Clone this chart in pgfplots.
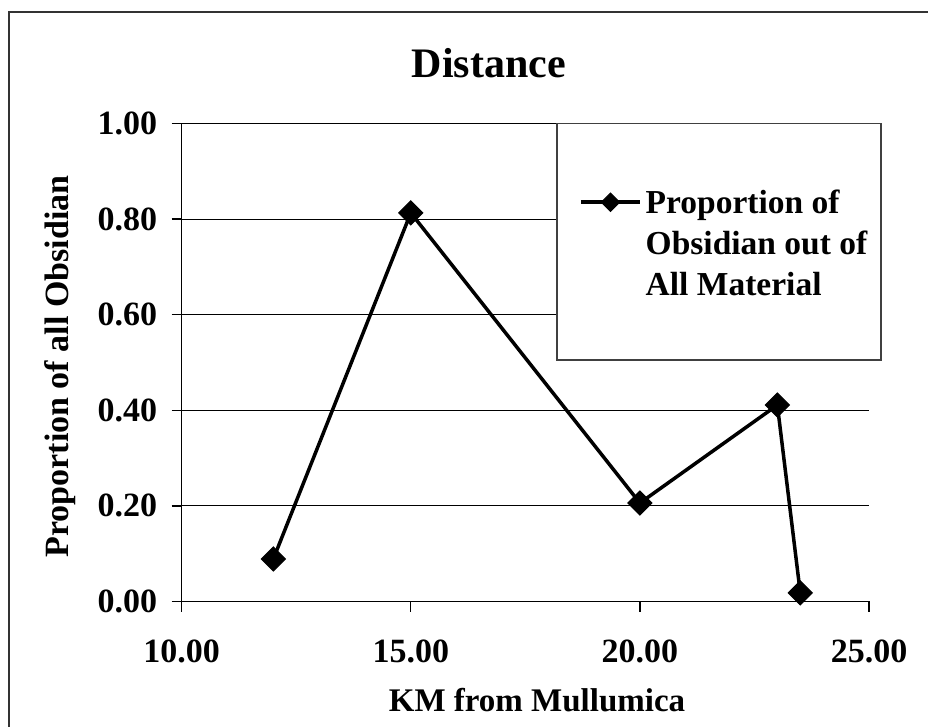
\documentclass[border=0pt]{standalone}
\usepackage{fontspec}
\setmainfont{Liberation Serif}
\usepackage{pgfplots}
\pgfplotsset{compat=1.18}
\begin{document}
\begin{tikzpicture}[x=1pt,y=1pt]
\useasboundingbox (-181.7,-125.5) rectangle (746.3,601.5);
\draw[line width=2pt, black!80] (760,589.8) -- (-172.2,589.8) -- (-172.2,-140);
\begin{axis}[
  at={(0,0)}, anchor=south west,
  scale only axis, width=687.3pt, height=478pt, clip=false,
  xmin=10, xmax=25, ymin=0, ymax=1,
  xtick={10,15,20,25}, ytick={0,0.2,0.4,0.6,0.8,1},
  axis lines=left, axis line style={-, line width=1.3pt, black},
  ymajorgrids, grid style={line width=1pt, black},
  tick align=outside, major tick length=10pt,
  tick style={line width=1.3pt, black},
  /pgf/number format/fixed, /pgf/number format/fixed zerofill,
  /pgf/number format/precision=2, /pgf/number format/assume math mode=true,
  ticklabel style={font=\fontsize{34}{40}\selectfont\bfseries},
  xticklabel style={yshift=-25pt},
  yticklabel style={xshift=-11pt},
  title={Distance},
  title style={at={(axis description cs:0.447,1.0841)}, anchor=base, font=\fontsize{42}{50}\selectfont\bfseries},
  xlabel={KM from Mullumica},
  xlabel style={at={(axis description cs:0.517,-0.231)}, anchor=base, font=\fontsize{33}{40}\selectfont\bfseries},
  legend style={at={(axis description cs:0.5461,1.0)}, anchor=north west, draw=none, fill=none,
    inner xsep=22pt, inner ysep=66pt, column sep=4pt,
    nodes={inner sep=0pt, font=\fontsize{33.5}{41}\selectfont\bfseries}},
  legend image code/.code={
    \draw[mark repeat=2, mark phase=2, #1, mark size=6.5pt] plot coordinates {(0pt,0pt) (29.5pt,0pt) (59pt,0pt)};
  },
]
\draw[black!75, line width=1.3pt, fill=white] (axis description cs:0.5461,1.0) rectangle (axis description cs:1.0174,0.5052);
\addplot[black, line width=3.5pt, mark=square*, mark size=8.5pt,
  mark options={solid, rotate=45, line width=1pt, fill=black}]
  coordinates {(12,0.089) (15,0.813) (20,0.206) (23,0.411) (23.5,0.018)};
\addlegendentry{\parbox[t]{210pt}{\raggedright\mbox{Proportion of}\\\mbox{Obsidian out of}\\\mbox{All Material}}}
\end{axis}
\node[rotate=90, anchor=center, inner sep=0pt, font=\fontsize{34}{40}\selectfont\bfseries] at (-121.7,235) {Proportion of all Obsidian};
\end{tikzpicture}
\end{document}
